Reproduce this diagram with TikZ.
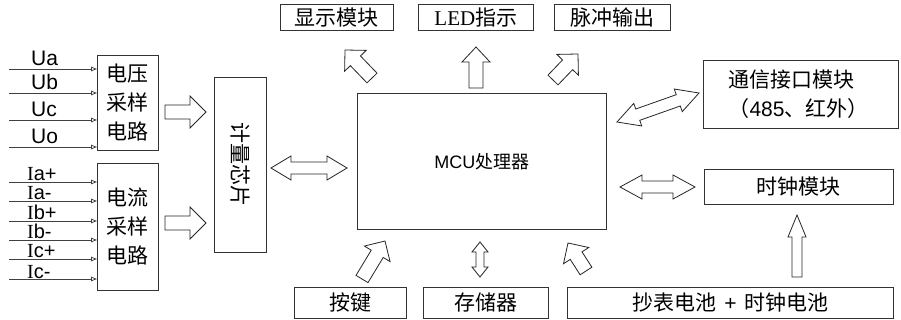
\documentclass[tikz,border=0pt]{standalone}
\usepackage{fontspec}
\setmainfont{Liberation Sans}
\newfontfamily\cjk{Noto Sans CJK SC}
\newfontfamily\lserif{Liberation Serif}
\usetikzlibrary{calc,arrows.meta}
\tikzset{
  box/.style={draw=black!80, line width=0.8pt, inner sep=0pt, anchor=north west},
  cn/.style={font=\cjk\fontsize{21}{29}\selectfont, align=center},
  lab/.style={font=\fontsize{21}{21}\selectfont, inner sep=0pt, anchor=base west},
  ilab/.style={font=\fontsize{20}{20}\selectfont, inner sep=0pt, anchor=base west},
  inarrow/.style={draw=black!75, line width=0.8pt, -{Triangle[open, length=6pt, width=4.5pt]}},
  barrowstyle/.style={draw=black!85, line width=0.8pt, fill=white, line join=miter},
}
\newcommand\getgeom[2]{%
  \path let \p1=(#1), \p2=(#2) in \pgfextra{%
    \pgfmathsetmacro\tmpang{atan2(\y2-\y1,\x2-\x1)}%
    \pgfmathsetmacro\tmplen{veclen(\x2-\x1,\y2-\y1)}%
    \xdef\arang{\tmpang}\xdef\arlen{\tmplen}};}
% single-headed block arrow: from, to, half stem, half head, head length
\newcommand\sarrow[5]{%
  \getgeom{#1}{#2}%
  \pgfmathsetmacro\arb{\arlen-#5}%
  \draw[barrowstyle, shift={(#1)}, rotate=\arang]
    (0pt,#3pt) -- (\arb pt,#3pt) -- (\arb pt,#4pt) -- (\arlen pt,0pt)
    -- (\arb pt,-#4pt) -- (\arb pt,-#3pt) -- (0pt,-#3pt) -- cycle;}
% double-headed block arrow
\newcommand\darrow[5]{%
  \getgeom{#1}{#2}%
  \pgfmathsetmacro\arb{\arlen-#5}%
  \draw[barrowstyle, shift={(#1)}, rotate=\arang]
    (0pt,0pt) -- (#5pt,#4pt) -- (#5pt,#3pt) -- (\arb pt,#3pt) -- (\arb pt,#4pt)
    -- (\arlen pt,0pt) -- (\arb pt,-#4pt) -- (\arb pt,-#3pt) -- (#5pt,-#3pt)
    -- (#5pt,-#4pt) -- cycle;}
\begin{document}
\begin{tikzpicture}[x=1pt, y=-1pt]
\useasboundingbox (0,0) rectangle (901,320);
\fill[white] (0,0) rectangle (901,320);

% boxes
\node[box, minimum width=61pt, minimum height=95pt] (vol) at (97,55) {};
\node[cn] at (vol.center) {电压\\采样\\电路};
\node[box, minimum width=61pt, minimum height=127pt] (cur) at (97,163) {};
\node[cn] at ($(cur.center)+(0,-0.5)$) {电流\\采样\\电路};
\node[box, minimum width=52pt, minimum height=175pt] (chip) at (214,77) {};
\node[cn, rotate=-90] at (chip.center) {计量芯片};
\node[box, minimum width=249pt, minimum height=136pt] (mcu) at (357,93) {};
\node[font=\fontsize{18}{18}\selectfont] at (mcu.center) {MCU{\cjk 处理器}};

\node[box, minimum width=113pt, minimum height=26pt] (disp) at (280,4) {};
\node[cn] at (disp.center) {显示模块};
\node[box, minimum width=115pt, minimum height=26pt] (led) at (418,4) {};
\node[cn] at (led.center) {{\lserif LED}指示};
\node[box, minimum width=116pt, minimum height=26pt] (pulse) at (554,4) {};
\node[cn] at (pulse.center) {脉冲输出};

\node[box, minimum width=195pt, minimum height=68pt] (comm) at (703,60) {};
\node[cn, align=left, anchor=west] at ($(comm.west)+(22,0)$) {通信接口模块\\（{\fontspec{Liberation Sans}485}、红外）};
\node[box, minimum width=189pt, minimum height=35pt] (clk) at (704,169) {};
\node[cn] at (clk.center) {时钟模块};

\node[box, minimum width=112pt, minimum height=31pt] (key) at (294,287) {};
\node[cn] at (key.center) {按键};
\node[box, minimum width=125pt, minimum height=31pt] (mem) at (423,287) {};
\node[cn] at (mem.center) {存储器};
\node[box, minimum width=326pt, minimum height=31pt] (bat) at (567,287) {};
\node[cn] at (bat.center) {抄表电池 \,{\fontspec{Liberation Sans}+}\, 时钟电池};

% voltage inputs
\foreach \nm/\yy/\tx in {ua/69/Ua, ub/93/Ub, uc/120/Uc, uo/147/Uo}{
  \coordinate (\nm) at (9,\yy);
  \draw[inarrow] (\nm) -- (vol.west |- \nm);
  \node[lab] at ($(\nm)+(22,-3)$) {\tx};
}
% current inputs
\foreach \nm/\yy/\tx in {iap/182/a+, iam/201/a-, ibp/221/b+, ibm/240/b-, icp/259/c+, icm/279/c-}{
  \coordinate (\nm) at (9,\yy);
  \draw[inarrow] (\nm) -- (cur.west |- \nm);
  \node[ilab] at ($(\nm)+(18,-1)$) {{\lserif I}\tx};
}

% block arrows
\coordinate (v1) at (165,112); \coordinate (v2) at (206,112);
\sarrow{v1}{v2}{7}{16}{16}
\coordinate (c1) at (165,223); \coordinate (c2) at (206,223);
\sarrow{c1}{c2}{7}{16}{16}
\coordinate (m1) at (271,168); \coordinate (m2) at (347,168);
\darrow{m1}{m2}{6}{12}{20}

\coordinate (d1) at (372,78); \coordinate (d2) at (345,50);
\sarrow{d1}{d2}{7}{15}{15}
\coordinate (l1) at (476,88); \coordinate (l2) at (476,47);
\sarrow{l1}{l2}{7}{14}{15}
\coordinate (p1) at (553,80); \coordinate (p2) at (578,54);
\sarrow{p1}{p2}{7}{15}{15}

\coordinate (k1) at (617,122); \coordinate (k2) at (699,93);
\darrow{k1}{k2}{6}{12}{22}
\coordinate (t1) at (620,187); \coordinate (t2) at (695,187);
\darrow{t1}{t2}{6}{12}{22}

\coordinate (b1) at (362,279); \coordinate (b2) at (385,241);
\sarrow{b1}{b2}{7}{15}{15}
\coordinate (s1) at (480,277); \coordinate (s2) at (480,242);
\darrow{s1}{s2}{4}{8}{10}
\coordinate (e1) at (586,271); \coordinate (e2) at (568,243);
\sarrow{e1}{e2}{7}{15}{15}
\coordinate (q1) at (797,277); \coordinate (q2) at (797,215);
\sarrow{q1}{q2}{5}{9}{22}
\end{tikzpicture}
\end{document}
